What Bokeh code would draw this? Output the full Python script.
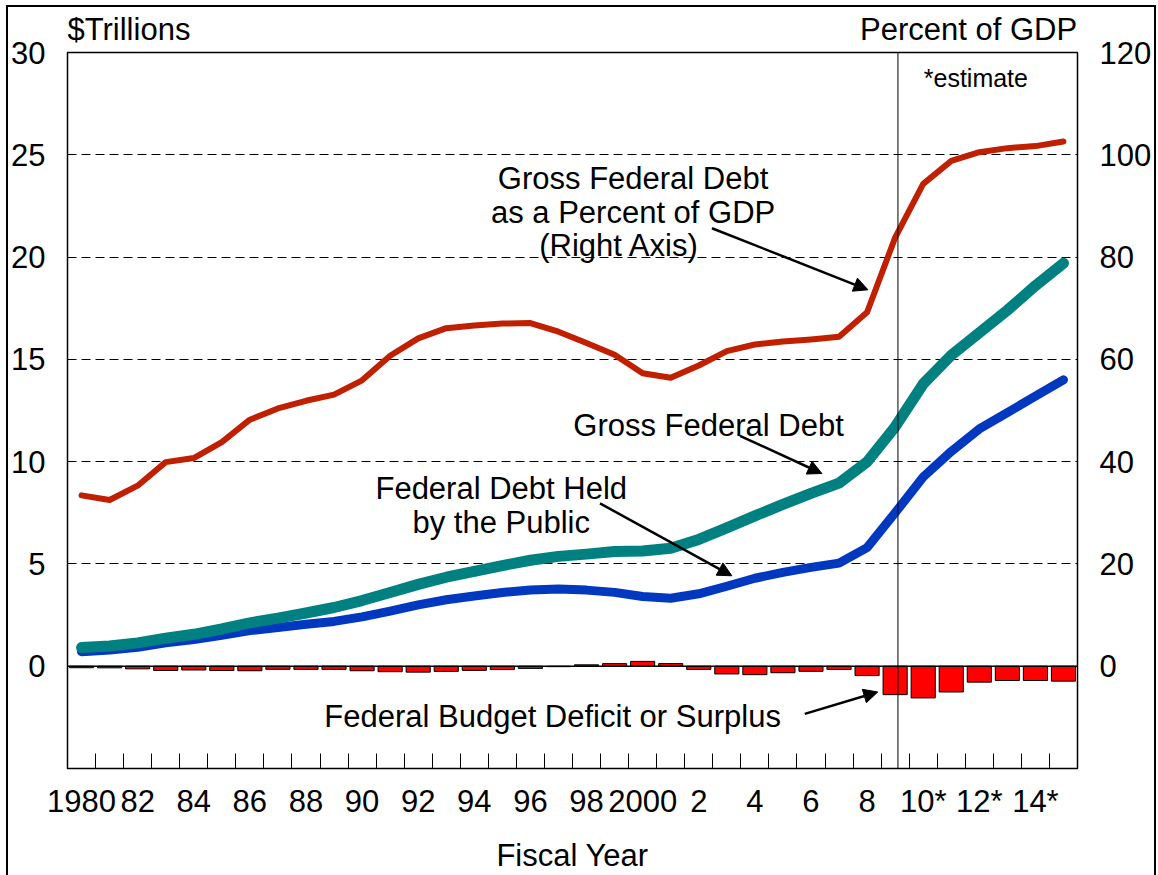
from bokeh.plotting import figure
from bokeh.models import (Range1d, LinearAxis, FixedTicker, Span, Label, Arrow, NormalHead)
from bokeh.embed import file_html
from bokeh.resources import INLINE

years = list(range(1980, 2016))

gross_pct_gdp = [33.4, 32.5, 35.3, 39.9, 40.7, 43.8, 48.2, 50.4, 51.9, 53.1,
                 55.9, 60.7, 64.1, 66.1, 66.6, 67.0, 67.1, 65.4, 63.2, 60.9,
                 57.3, 56.4, 58.8, 61.6, 62.9, 63.5, 63.9, 64.4, 69.2, 83.8,
                 94.3, 98.8, 100.5, 101.3, 101.7, 102.6]

gross_debt = [0.91, 0.99, 1.14, 1.37, 1.56, 1.82, 2.12, 2.35, 2.60, 2.87,
              3.21, 3.60, 4.00, 4.35, 4.64, 4.92, 5.18, 5.37, 5.48, 5.61,
              5.63, 5.77, 6.20, 6.76, 7.35, 7.91, 8.45, 8.95, 9.99, 11.7,
              13.8, 15.2, 16.3, 17.4, 18.6, 19.7]

public_debt = [0.71, 0.79, 0.92, 1.14, 1.31, 1.51, 1.74, 1.89, 2.05, 2.19,
               2.41, 2.69, 3.00, 3.25, 3.43, 3.60, 3.73, 3.77, 3.72, 3.61,
               3.41, 3.32, 3.54, 3.91, 4.30, 4.59, 4.83, 5.04, 5.80, 7.5,
               9.25, 10.5, 11.6, 12.4, 13.2, 14.0]

deficit = [-0.074, -0.079, -0.128, -0.208, -0.185, -0.212, -0.221, -0.150, -0.155, -0.153,
           -0.221, -0.269, -0.290, -0.255, -0.203, -0.164, -0.107, -0.022, 0.069, 0.126,
           0.236, 0.128, -0.158, -0.378, -0.413, -0.318, -0.248, -0.161, -0.459, -1.39,
           -1.55, -1.26, -0.78, -0.70, -0.70, -0.73]

tick_years = [1980, 1982, 1984, 1986, 1988, 1990, 1992, 1994, 1996, 1998,
              2000, 2002, 2004, 2006, 2008, 2010, 2012, 2014]
tick_labels = ["1980", "82", "84", "86", "88", "90", "92", "94", "96", "98",
               "2000", "2", "4", "6", "8", "10*", "12*", "14*"]
left_ticks = [0, 5, 10, 15, 20, 25, 30]
right_ticks = [0, 20, 40, 60, 80, 100, 120]
unit_titles = ["$Trillions", "Percent of GDP"]
unit_title_pos = [1981.69, 2011.62]

FONT = "Liberation Sans"
FS = "31px"

p = figure(width=1146, height=868,
           x_range=Range1d(1979.5, 2015.5), y_range=Range1d(-5, 30),
           output_backend="svg", toolbar_location=None,
           min_border_left=59, min_border_right=76,
           min_border_top=45, min_border_bottom=103)
p.extra_y_ranges = {"pct": Range1d(-20, 120)}
p.styles = {"margin-left": "8px", "margin-top": "7px",
            "outline": "2px solid black"}

p.outline_line_color = "black"
p.outline_line_width = 1.5
p.outline_line_alpha = 1.0
p.background_fill_color = "white"
p.border_fill_color = "white"

# bottom x axis
xa = p.xaxis[0]
xa.ticker = FixedTicker(ticks=tick_years,
                        minor_ticks=[y - 0.5 for y in years] + [years[-1] + 0.5])
xa.major_label_overrides = dict(zip(tick_years, tick_labels))
xa.major_tick_in = 0
xa.major_tick_out = 0
xa.minor_tick_in = 15
xa.minor_tick_out = 0
xa.minor_tick_line_color = "black"
xa.minor_tick_line_width = 1
xa.axis_line_color = None
xa.major_label_standoff = 15
xa.major_label_text_font = FONT
xa.major_label_text_font_size = FS
xa.major_label_text_color = "black"
xa.axis_label = "Fiscal Year"
xa.axis_label_standoff = 16
xa.axis_label_text_font = FONT
xa.axis_label_text_font_size = FS
xa.axis_label_text_font_style = "normal"
xa.axis_label_text_color = "black"

# top axis carrying the unit captions
ta = LinearAxis(ticker=FixedTicker(ticks=unit_title_pos))
ta.major_label_overrides = dict(zip(unit_title_pos, unit_titles))
ta.major_tick_in = 0
ta.major_tick_out = 0
ta.minor_tick_line_color = None
ta.axis_line_color = None
ta.major_label_standoff = 6
ta.major_label_text_font = FONT
ta.major_label_text_font_size = FS
ta.major_label_text_color = "black"
p.add_layout(ta, "above")

# left axis
ya = p.yaxis[0]
ya.ticker = FixedTicker(ticks=left_ticks)
ya.major_tick_in = 0
ya.major_tick_out = 0
ya.minor_tick_line_color = None
ya.axis_line_color = None
ya.major_label_standoff = 22
ya.major_label_text_font = FONT
ya.major_label_text_font_size = FS
ya.major_label_text_color = "black"

# right axis
ra = LinearAxis(y_range_name="pct", ticker=FixedTicker(ticks=right_ticks))
ra.major_tick_in = 0
ra.major_tick_out = 0
ra.minor_tick_line_color = None
ra.axis_line_color = None
ra.major_label_standoff = 22
ra.major_label_text_font = FONT
ra.major_label_text_font_size = FS
ra.major_label_text_color = "black"
p.add_layout(ra, "right")

# grid
p.xgrid.visible = False
p.ygrid.ticker = FixedTicker(ticks=left_ticks[1:])
p.ygrid.grid_line_color = "black"
p.ygrid.grid_line_dash = "9 5"
p.ygrid.grid_line_width = 1

# bars
p.vbar(x=years, top=deficit, bottom=0, width=0.86,
       fill_color="#FF0000", line_color="black", line_width=1)

p.add_layout(Span(location=0, dimension="width", line_color="black", line_width=1.5))
p.add_layout(Span(location=2009.1, dimension="height", line_color="black", line_width=1))

# lines
p.line(years, public_debt, line_color="#0038C0", line_width=9,
       line_cap="round", line_join="round")
p.line(years, gross_debt, line_color="#008080", line_width=11,
       line_cap="round", line_join="round")
p.line(years, gross_pct_gdp, y_range_name="pct", line_color="#C02000", line_width=6,
       line_cap="round", line_join="round")

def lab(text, x, y, size=FS, align="center", baseline="middle"):
    p.add_layout(Label(x=x, y=y, text=text, text_font=FONT, text_font_size=size,
                       text_align=align, text_baseline=baseline, text_color="black"))

lab("*estimate", 2010.02, 28.74, size="25px", align="left")

lab("Gross Federal Debt", 1999.66, 23.83)
lab("as a Percent of GDP", 1999.66, 22.18)
lab("(Right Axis)", 1999.17, 20.58)
lab("Gross Federal Debt", 2002.35, 11.75)
lab("Federal Debt Held", 1994.96, 8.69)
lab("by the Public", 1994.96, 7.04)
lab("Federal Budget Deficit or Surplus", 1996.79, -2.48)

def arrow(x0, y0, x1, y1):
    p.add_layout(Arrow(end=NormalHead(size=14, fill_color="black", line_color="black"),
                       x_start=x0, y_start=y0, x_end=x1, y_end=y1,
                       line_color="black", line_width=2.5))

arrow(2002.47, 21.41, 2008.03, 18.40)
arrow(2003.47, 11.26, 2006.39, 9.42)
arrow(1998.48, 7.96, 2003.18, 4.42)
arrow(2005.78, -2.33, 2008.38, -1.26)

open("out.html", "w").write(file_html(p, INLINE))
